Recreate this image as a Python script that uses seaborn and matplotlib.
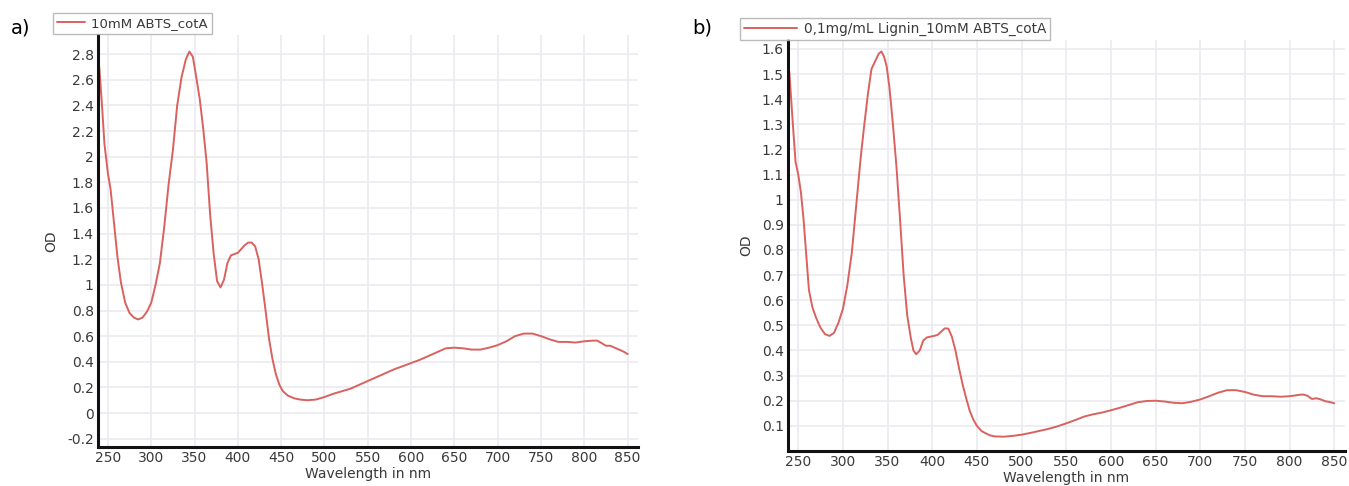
import numpy as np
import pandas as pd
import matplotlib
matplotlib.use("Agg")
import matplotlib.pyplot as plt
import seaborn as sns
from matplotlib.ticker import FixedLocator, FuncFormatter

# Spectrum a) 10 mM ABTS with CotA
wl_a = [240, 243, 246, 250, 253, 255, 258, 261, 265, 270, 275, 280, 285, 290, 295,
        300, 305, 310, 315, 320, 325, 330, 335, 340, 344, 348, 352, 356, 360, 364,
        368, 372, 376, 380, 384, 388, 392, 396, 400, 404, 408, 412, 416, 420, 424,
        428, 432, 436, 440, 444, 448, 452, 458, 465, 472, 480, 490, 500, 510, 520,
        530, 540, 550, 560, 570, 580, 590, 600, 610, 620, 630, 640, 650, 660, 670,
        680, 690, 700, 710, 720, 730, 740, 750, 760, 770, 780, 790, 800, 810, 815,
        820, 825, 830, 835, 840, 845, 850]
od_a = [2.70, 2.42, 2.10, 1.87, 1.75, 1.62, 1.42, 1.22, 1.02, 0.86, 0.78, 0.745, 0.73, 0.745, 0.79,
        0.86, 1.00, 1.17, 1.45, 1.78, 2.05, 2.40, 2.62, 2.76, 2.82, 2.78, 2.62, 2.45, 2.22, 1.95,
        1.55, 1.25, 1.03, 0.98, 1.04, 1.17, 1.23, 1.24, 1.25, 1.28, 1.31, 1.33, 1.33, 1.30, 1.20,
        1.01, 0.80, 0.58, 0.42, 0.30, 0.22, 0.17, 0.135, 0.115, 0.105, 0.10, 0.105, 0.125, 0.15, 0.17,
        0.19, 0.22, 0.25, 0.28, 0.31, 0.34, 0.365, 0.39, 0.415, 0.445, 0.475, 0.505, 0.51, 0.505, 0.495,
        0.495, 0.51, 0.53, 0.56, 0.60, 0.62, 0.62, 0.60, 0.575, 0.555, 0.555, 0.55, 0.56, 0.565, 0.565,
        0.545, 0.525, 0.525, 0.51, 0.495, 0.48, 0.46]

# Spectrum b) 0.1 mg/mL lignin + 10 mM ABTS with CotA
wl_b = [240, 244, 247, 250, 253, 256, 259, 262, 266, 270, 275, 280, 285, 290, 295,
        300, 305, 310, 315, 320, 324, 328, 332, 336, 340, 343, 346, 349, 352, 356,
        360, 364, 368, 372, 376, 379, 382, 386, 390, 394, 398, 402, 406, 410, 414,
        418, 422, 426, 430, 434, 438, 442, 446, 450, 455, 460, 465, 470, 480, 490,
        500, 510, 520, 530, 540, 550, 560, 570, 580, 590, 600, 610, 620, 630, 640,
        650, 660, 670, 680, 690, 700, 710, 720, 730, 740, 750, 760, 770, 780, 790,
        800, 810, 815, 820, 825, 830, 835, 840, 845, 850]
od_b = [1.51, 1.30, 1.15, 1.10, 1.03, 0.92, 0.78, 0.64, 0.57, 0.53, 0.49, 0.465, 0.458, 0.47, 0.51,
        0.565, 0.66, 0.79, 0.98, 1.17, 1.30, 1.42, 1.52, 1.55, 1.58, 1.59, 1.57, 1.53, 1.45, 1.30,
        1.13, 0.92, 0.70, 0.54, 0.45, 0.40, 0.385, 0.40, 0.44, 0.452, 0.455, 0.458, 0.462, 0.475, 0.488,
        0.487, 0.455, 0.40, 0.33, 0.265, 0.21, 0.16, 0.125, 0.10, 0.08, 0.07, 0.062, 0.058, 0.057, 0.06,
        0.065, 0.072, 0.08, 0.088, 0.098, 0.11, 0.123, 0.137, 0.146, 0.153, 0.162, 0.172, 0.183, 0.194, 0.199,
        0.20, 0.197, 0.192, 0.19, 0.196, 0.205, 0.218, 0.232, 0.242, 0.242, 0.235, 0.224, 0.218, 0.218, 0.216,
        0.218, 0.223, 0.225, 0.22, 0.207, 0.21, 0.205, 0.198, 0.195, 0.19]

label_a = "10mM ABTS_cotA"
label_b = "0,1mg/mL Lignin_10mM ABTS_cotA"
x_ticks = [250, 300, 350, 400, 450, 500, 550, 600, 650, 700, 750, 800, 850]
y_ticks_a = [-0.2, 0, 0.2, 0.4, 0.6, 0.8, 1, 1.2, 1.4, 1.6, 1.8, 2, 2.2, 2.4, 2.6, 2.8]
y_ticks_b = [0.1, 0.2, 0.3, 0.4, 0.5, 0.6, 0.7, 0.8, 0.9, 1, 1.1, 1.2, 1.3, 1.4, 1.5, 1.6]

sns.set_theme(style="whitegrid")
plt.rcParams["font.family"] = ["DejaVu Sans"]

fig = plt.figure(figsize=(13.49, 4.86), dpi=100)
ax_a = fig.add_axes([0.0726, 0.0802, 0.4004, 0.848])
ax_b = fig.add_axes([0.5841, 0.0720, 0.4129, 0.846])

line_color = "#d9625f"
text_color = "#3a3a3a"


def style_axes(ax, df, label, yticks, ylim, leg_anchor, leg_size, handle_len):
    sns.lineplot(data=df, x="wl", y="od", ax=ax, color=line_color, linewidth=1.4, label=label)
    ax.set_xlim(238.5, 862)
    ax.set_ylim(*ylim)
    ax.xaxis.set_major_locator(FixedLocator(x_ticks))
    ax.yaxis.set_major_locator(FixedLocator(yticks))
    ax.yaxis.set_major_formatter(FuncFormatter(lambda v, p: f"{v:g}"))
    ax.grid(True, color="#ebebf0", linewidth=1.2)
    ax.set_facecolor("white")
    for side in ("top", "right"):
        ax.spines[side].set_visible(False)
    for side in ("left", "bottom"):
        ax.spines[side].set_visible(True)
        ax.spines[side].set_color("#111111")
        ax.spines[side].set_linewidth(2.2)
    ax.tick_params(axis="both", length=0, pad=3, labelsize=10, labelcolor=text_color)
    ax.set_xlabel("Wavelength in nm", fontsize=10, color=text_color, labelpad=1)
    ax.set_ylabel("OD", fontsize=10, color=text_color, labelpad=6)
    leg = ax.legend(loc="upper left", bbox_to_anchor=leg_anchor, frameon=True,
                    fontsize=leg_size, handlelength=handle_len, handletextpad=0.5,
                    borderpad=0.3, fancybox=False, borderaxespad=0)
    leg.get_frame().set_edgecolor("#aaaaaa")
    leg.get_frame().set_linewidth(1.0)
    for t in leg.get_texts():
        t.set_color(text_color)


df_a = pd.DataFrame({"wl": wl_a, "od": od_a})
df_b = pd.DataFrame({"wl": wl_b, "od": od_b})

style_axes(ax_a, df_a, label_a, y_ticks_a, (-0.265, 2.95), (-0.083, 1.053), 9.5, 2.1)
style_axes(ax_b, df_b, label_b, y_ticks_b, (0.0, 1.636), (-0.086, 1.054), 9.8, 3.9)

fig.text(0.008, 0.942, "a)", fontsize=14, color="black", va="center", ha="left")
fig.text(0.513, 0.942, "b)", fontsize=14, color="black", va="center", ha="left")

fig.savefig("out.png", dpi=100)
